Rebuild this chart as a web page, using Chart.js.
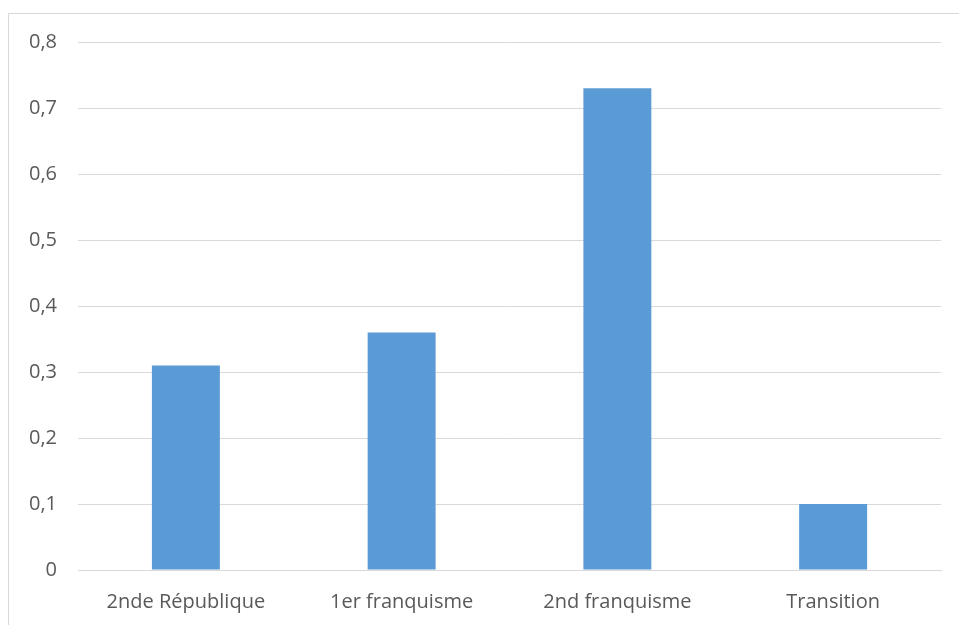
<!DOCTYPE html>
<html>
<head>
<meta charset="utf-8">
<script src="https://cdn.jsdelivr.net/npm/chart.js@4"></script>
<style>
  html, body { margin: 0; padding: 0; background: #fff; }
  #frame {
    position: absolute; left: 8px; top: 13px;
    width: 950px; height: 611px;
    border-left: 1px solid #d9d9d9; border-top: 1px solid #d9d9d9;
  }
</style>
</head>
<body>
<div id="frame"><canvas id="myChart" width="950" height="611"></canvas></div>
<script>
const categories = ['2nde République', '1er franquisme', '2nd franquisme', 'Transition'];
const values = [0.31, 0.36, 0.73, 0.10];

const ctx = document.getElementById('myChart');
new Chart(ctx, {
    type: 'bar',
    data: {
        labels  : categories,
        datasets: [{
            data           : values,
            backgroundColor: '#5b9bd5',
            categoryPercentage: 1,
            barPercentage  : 0.315
        }]
    },
    options: {
        responsive: false,
        animation : false,
        layout: { padding: { left: 0, right: 18, top: 28, bottom: 0 } },
        plugins: { legend: { display: false }, tooltip: { enabled: false } },
        scales: {
            x: {
                grid  : { display: false, drawTicks: false },
                border: { display: true, color: '#d9d9d9' },
                ticks : { color: '#595959', padding: 20, font: { family: 'Open Sans', size: 20 } },
                afterFit: s => { s.height = 55; s.paddingLeft = 0; s.paddingRight = 0; }
            },
            y: {
                min: 0, max: 0.8,
                grid  : { color: '#d9d9d9', drawTicks: false },
                border: { display: false },
                ticks : {
                    stepSize: 0.1, color: '#595959', padding: 21,
                    font: { family: 'Open Sans', size: 20 },
                    callback: v => v === 0 ? '0' : v.toFixed(1).replace('.', ',')
                },
                afterFit: s => { s.width = 69; s.paddingTop = 0; s.paddingBottom = 0; }
            }
        }
    }
});
</script>
</body>
</html>
